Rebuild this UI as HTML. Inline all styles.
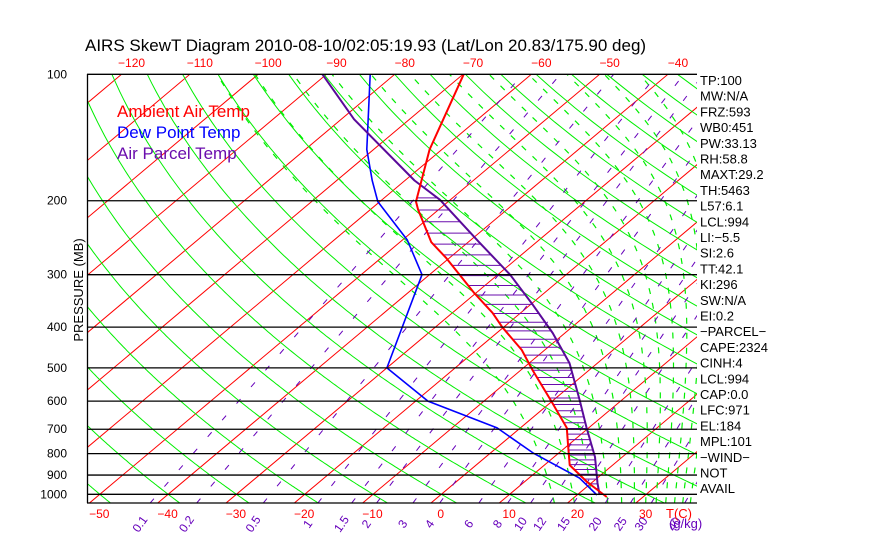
<!DOCTYPE html>
<html><head><meta charset="utf-8"><style>
html,body{margin:0;padding:0;background:#fff;}
svg{display:block;font-family:"Liberation Sans",sans-serif;}
</style></head><body>
<svg id="chart" width="870" height="560" viewBox="0 0 870 560" xmlns="http://www.w3.org/2000/svg">
<rect x="0" y="0" width="870" height="560" fill="#fff"/>
<defs><clipPath id="plotclip"><rect x="87" y="74" width="610" height="429"/></clipPath></defs>
<text x="85" y="51" font-size="17" fill="#000">AIRS SkewT Diagram 2010-08-10/02:05:19.93 (Lat/Lon 20.83/175.90 deg)</text>
<g id="bg" clip-path="url(#plotclip)"></g>
<g id="series" clip-path="url(#plotclip)"></g>
<g id="axes"></g>
<text x="117" y="117" font-size="17" fill="#ff0000">Ambient Air Temp</text>
<text x="117" y="138" font-size="17" fill="#0000ff">Dew Point Temp</text>
<text x="117" y="159" font-size="17" fill="#6a0dad">Air Parcel Temp</text>
<text transform="translate(83,290) rotate(-90)" text-anchor="middle" font-size="13" fill="#000">PRESSURE (MB)</text>
<g id="stats" font-size="13" fill="#000"></g>
</svg>
<script>
const tempP=[100,151,201,210,251,274,332,370,400,453,506,603,695,755,852,935,1015];
const tempT=[-69.9,-61.8,-54.7,-53.0,-45.4,-40.4,-30.2,-24.1,-20.2,-13.4,-8.3,0.1,6.8,9.6,13.7,19.2,24.7];
const dewP=[100,151,179,201,248,300,500,600,695,797,915,1004];
const dewT=[-83.6,-71.0,-64.8,-60.3,-49.3,-41.1,-30.0,-18.2,-3.4,6.2,17.4,22.9];
const parcelP=[100,128,179,199,251,300,354,413,487,596,695,815,940,1004];
const parcelT=[-90.6,-78.1,-58.6,-51.5,-38.4,-28.2,-19.6,-11.8,-4.1,3.8,9.7,16.0,20.9,23.3];
const pressureTicks=[100,200,300,400,500,600,700,800,900,1000];
const topTempTicks=[-120,-110,-100,-90,-80,-70,-60,-50,-40];
const bottomTempTicks=[-50,-40,-30,-20,-10,0,10,20,30];
const mixRatios=[0.1,0.2,0.5,1,1.5,2,3,4,6,8,10,12,15,20,25,30,40];
const mixLabels=["0.1","0.2","0.5","1","1.5","2","3","4","6","8","10","12","15","20","25","30","40"];
const statLabels=["TP:100","MW:N/A","FRZ:593","WB0:451","PW:33.13","RH:58.8","MAXT:29.2","TH:5463","L57:6.1","LCL:994","LI:\u22125.5","SI:2.6","TT:42.1","KI:296","SW:N/A","EI:0.2","\u2212PARCEL\u2212","CAPE:2324","CINH:4","LCL:994","CAP:0.0","LFC:971","EL:184","MPL:101","\u2212WIND\u2212"," NOT","AVAIL"];

const NS="http://www.w3.org/2000/svg";
function Y(p){return 74.3+182.4*Math.log(p/100);}
function X(T,p){return 431+6.83*T+(503-Y(p))*1.19;}
function mk(tag,attrs,parent){const e=document.createElementNS(NS,tag);for(const k in attrs)e.setAttribute(k,attrs[k]);parent.appendChild(e);return e;}
const bg=document.getElementById('bg'),series=document.getElementById('series'),axes=document.getElementById('axes'),stats=document.getElementById('stats');
const plevels=[];for(let p=1050;p>=99;p-=5)plevels.push(p);
function ptsStr(arr){return arr.map(a=>a[0].toFixed(1)+','+a[1].toFixed(1)).join(' ');}

for(let T=-170;T<=50;T+=10){
  const l=mk('line',{x1:X(T,1050),y1:Y(1050),x2:X(T,100),y2:Y(100),stroke:'#ff0000','stroke-width':1},bg);
  
  
}
for(let th=-60;th<=220;th+=10){
  const pts=plevels.map(p=>{const Tk=(th+273.15)*Math.pow(p/1000,0.286);return [X(Tk-273.15,p),Y(p)];});
  const l=mk('polyline',{points:ptsStr(pts),fill:'none',stroke:'#00ee00','stroke-width':1},bg);
  
  
}
function es(Tc){return 6.112*Math.exp(17.67*Tc/(Tc+243.5));}
function rs(Tc,p){const e=es(Tc);return 0.622*e/(p-e);}
function thetaE(Tc,p){const Tk=Tc+273.15,r=rs(Tc,p);return Tk*Math.pow(1000/p,0.286)*Math.exp(2.5e6*r/(1004*Tk));}
function dTdp(Tc,p){const Tk=Tc+273.15,r=rs(Tc,p);return (287*Tk+2.5e6*r)/(p*(1004+2.5e6*2.5e6*r*0.622/(287*Tk*Tk)));}
for(let te=320;te<=430;te+=10){
  let lo=-40,hi=45;for(let i=0;i<40;i++){const m=(lo+hi)/2;if(thetaE(m,1000)<te)lo=m;else hi=m;}
  let T=(lo+hi)/2;
  let t=T;for(let p=1000;p<1050;p+=2){t+=dTdp(t,p)*2;}
  const pts=[[X(t,1050),Y(1050)]];
  t=T;pts.push([X(t,1000),Y(1000)]);
  for(let p=1000;p>100;p-=2){t-=dTdp(t,p)*2;if((1000-p)%10===8)pts.push([X(t,p-2),Y(p-2)]);}
  const l=mk('polyline',{points:ptsStr(pts),fill:'none',stroke:'#00ee00','stroke-width':1.2,'stroke-dasharray':'6 9'},bg);
  
  
}
function tdFromW(w,p){const e=w*p/(622+w);const L=Math.log(e/6.112);return 243.5*L/(17.67-L);}
mixRatios.forEach((w,i)=>{
  const l=mk('line',{x1:X(tdFromW(w,1050),1050),y1:Y(1050),x2:X(tdFromW(w,100),100),y2:Y(100),stroke:'#6600bb','stroke-width':1,'stroke-dasharray':'6 16'},bg);
  
  
  const lx=X(tdFromW(w,1050),1050)-10;
  const t=mk('text',{x:lx,y:528,'font-size':12,fill:'#6600bb','text-anchor':'middle',transform:'rotate(-55 '+lx+' 524)'},axes);
  t.textContent=mixLabels[i];
  
  
});
const gk=mk('text',{x:669,y:528,'font-size':13,fill:'#6600bb'},axes);gk.textContent='(g/kg)';



pressureTicks.forEach(p=>{
  const l=mk('line',{x1:87,y1:Y(p),x2:697,y2:Y(p),stroke:'#000','stroke-width':1.3},axes);
  
  
  const t=mk('text',{x:67,y:Y(p)+4,'font-size':12,fill:'#000','text-anchor':'end'},axes);
  t.textContent=p;
  
  
});
let ax=mk('line',{x1:87,y1:503,x2:697,y2:503,stroke:'#000','stroke-width':1.3},axes);


ax=mk('line',{x1:87.5,y1:74,x2:87.5,y2:503,stroke:'#000','stroke-width':1.3},axes);


topTempTicks.forEach(T=>{
  const t=mk('text',{x:X(T,100)+10,y:67,'font-size':12,fill:'#ff0000','text-anchor':'middle'},axes);
  t.textContent=(T<0?'\u2212':'')+Math.abs(T);
  
  
});
bottomTempTicks.forEach(T=>{
  const t=mk('text',{x:X(T,1050)+10,y:518,'font-size':12,fill:'#ff0000','text-anchor':'middle'},axes);
  t.textContent=(T<0?'\u2212':'')+Math.abs(T);
  
  
});
const tc=mk('text',{x:666,y:518,'font-size':13,fill:'#ff0000'},axes);tc.textContent='T(C)';



function xAtY(P,T,y){
  for(let i=0;i<P.length-1;i++){const y1=Y(P[i]),y2=Y(P[i+1]);if(y>=y1&&y<=y2){const f=(y-y1)/(y2-y1);return X(T[i],P[i])+f*(X(T[i+1],P[i+1])-X(T[i],P[i]));}}
  return null;
}
let yy=Y(184);
while(yy<Y(990)){
  const xa=xAtY(tempP,tempT,yy),xb=xAtY(parcelP,parcelT,yy);
  if(xa!==null&&xb!==null&&xb>xa){
    const l=mk('line',{x1:xa,y1:yy,x2:xb,y2:yy,stroke:'#6a0dad','stroke-width':1},series);
    
    
  }
  yy+=Math.max(4.8,12-(yy-200)*0.028);
}
function drawSeries(P,T,color,w,name){
  const pts=P.map((p,i)=>[X(T[i],p),Y(p)]);
  const l=mk('polyline',{points:ptsStr(pts),fill:'none',stroke:color,'stroke-width':w,'stroke-linejoin':'round'},series);
  
  
}
drawSeries(dewP,dewT,'#0000ff',1.6,'dew-point-line');
drawSeries(parcelP,parcelT,'#5a0a9a',2,'parcel-temp-line');
drawSeries(tempP,tempT,'#ff0000',2,'ambient-temp-line');

statLabels.forEach((s,i)=>{
  const t=mk('text',{x:700,y:85+i*15.7},stats);
  t.textContent=s;
  
  
});
</script>
</body></html>
